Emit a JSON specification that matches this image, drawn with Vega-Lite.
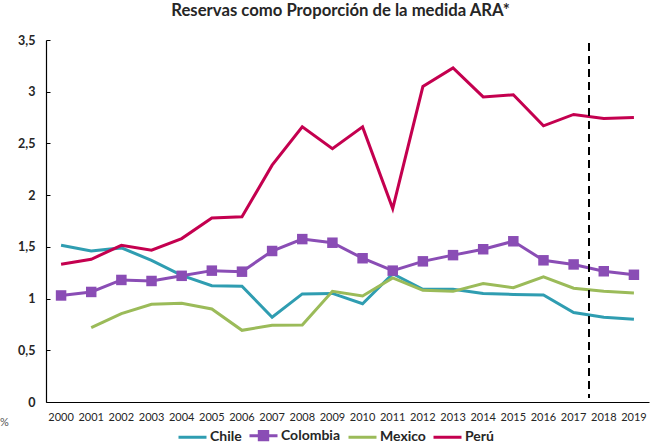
{
  "$schema": "https://vega.github.io/schema/vega-lite/v6.json",
  "autosize": "none",
  "width": 603,
  "height": 362,
  "padding": {"left": 46, "top": 40, "right": 4, "bottom": 43},
  "background": "white",
  "config": {
    "view": {"stroke": null},
    "font": "Lato",
    "axis": {"grid": false, "domainColor": "#000000", "domainWidth": 1.2}
  },
  "title": {
    "text": "Reservas como Proporción de la medida ARA*",
    "fontSize": 16.7,
    "fontWeight": "bold",
    "color": "#262626",
    "font": "Lato",
    "offset": 14,
    "dx": -7
  },
  "data": {
    "values": [
      {"year": "2000", "country": "Chile", "value": 1.515},
      {"year": "2001", "country": "Chile", "value": 1.46},
      {"year": "2002", "country": "Chile", "value": 1.49},
      {"year": "2003", "country": "Chile", "value": 1.37},
      {"year": "2004", "country": "Chile", "value": 1.225},
      {"year": "2005", "country": "Chile", "value": 1.125},
      {"year": "2006", "country": "Chile", "value": 1.12},
      {"year": "2007", "country": "Chile", "value": 0.82},
      {"year": "2008", "country": "Chile", "value": 1.045},
      {"year": "2009", "country": "Chile", "value": 1.05},
      {"year": "2010", "country": "Chile", "value": 0.95},
      {"year": "2011", "country": "Chile", "value": 1.24},
      {"year": "2012", "country": "Chile", "value": 1.09},
      {"year": "2013", "country": "Chile", "value": 1.09},
      {"year": "2014", "country": "Chile", "value": 1.05},
      {"year": "2015", "country": "Chile", "value": 1.04},
      {"year": "2016", "country": "Chile", "value": 1.035},
      {"year": "2017", "country": "Chile", "value": 0.865},
      {"year": "2018", "country": "Chile", "value": 0.82},
      {"year": "2019", "country": "Chile", "value": 0.80},
      {"year": "2000", "country": "Colombia", "value": 1.03},
      {"year": "2001", "country": "Colombia", "value": 1.064},
      {"year": "2002", "country": "Colombia", "value": 1.18},
      {"year": "2003", "country": "Colombia", "value": 1.17},
      {"year": "2004", "country": "Colombia", "value": 1.22},
      {"year": "2005", "country": "Colombia", "value": 1.27},
      {"year": "2006", "country": "Colombia", "value": 1.26},
      {"year": "2007", "country": "Colombia", "value": 1.46},
      {"year": "2008", "country": "Colombia", "value": 1.575},
      {"year": "2009", "country": "Colombia", "value": 1.54},
      {"year": "2010", "country": "Colombia", "value": 1.39},
      {"year": "2011", "country": "Colombia", "value": 1.27},
      {"year": "2012", "country": "Colombia", "value": 1.36},
      {"year": "2013", "country": "Colombia", "value": 1.42},
      {"year": "2014", "country": "Colombia", "value": 1.477},
      {"year": "2015", "country": "Colombia", "value": 1.554},
      {"year": "2016", "country": "Colombia", "value": 1.37},
      {"year": "2017", "country": "Colombia", "value": 1.33},
      {"year": "2018", "country": "Colombia", "value": 1.264},
      {"year": "2019", "country": "Colombia", "value": 1.23},
      {"year": "2001", "country": "Mexico", "value": 0.72},
      {"year": "2002", "country": "Mexico", "value": 0.855},
      {"year": "2003", "country": "Mexico", "value": 0.945},
      {"year": "2004", "country": "Mexico", "value": 0.955},
      {"year": "2005", "country": "Mexico", "value": 0.90},
      {"year": "2006", "country": "Mexico", "value": 0.693},
      {"year": "2007", "country": "Mexico", "value": 0.742},
      {"year": "2008", "country": "Mexico", "value": 0.745},
      {"year": "2009", "country": "Mexico", "value": 1.07},
      {"year": "2010", "country": "Mexico", "value": 1.025},
      {"year": "2011", "country": "Mexico", "value": 1.20},
      {"year": "2012", "country": "Mexico", "value": 1.08},
      {"year": "2013", "country": "Mexico", "value": 1.07},
      {"year": "2014", "country": "Mexico", "value": 1.145},
      {"year": "2015", "country": "Mexico", "value": 1.105},
      {"year": "2016", "country": "Mexico", "value": 1.21},
      {"year": "2017", "country": "Mexico", "value": 1.10},
      {"year": "2018", "country": "Mexico", "value": 1.07},
      {"year": "2019", "country": "Mexico", "value": 1.055},
      {"year": "2000", "country": "Perú", "value": 1.332},
      {"year": "2001", "country": "Perú", "value": 1.38},
      {"year": "2002", "country": "Perú", "value": 1.515},
      {"year": "2003", "country": "Perú", "value": 1.467},
      {"year": "2004", "country": "Perú", "value": 1.58},
      {"year": "2005", "country": "Perú", "value": 1.78},
      {"year": "2006", "country": "Perú", "value": 1.79},
      {"year": "2007", "country": "Perú", "value": 2.29},
      {"year": "2008", "country": "Perú", "value": 2.66},
      {"year": "2009", "country": "Perú", "value": 2.45},
      {"year": "2010", "country": "Perú", "value": 2.66},
      {"year": "2011", "country": "Perú", "value": 1.87},
      {"year": "2012", "country": "Perú", "value": 3.05},
      {"year": "2013", "country": "Perú", "value": 3.23},
      {"year": "2014", "country": "Perú", "value": 2.95},
      {"year": "2015", "country": "Perú", "value": 2.97},
      {"year": "2016", "country": "Perú", "value": 2.67},
      {"year": "2017", "country": "Perú", "value": 2.78},
      {"year": "2018", "country": "Perú", "value": 2.74},
      {"year": "2019", "country": "Perú", "value": 2.75}
    ]
  },
  "encoding": {
    "x": {
      "field": "year",
      "type": "ordinal",
      "scale": {"type": "band", "paddingInner": 0, "paddingOuter": 0},
      "axis": {
        "title": null,
        "labelAngle": 0,
        "ticks": false,
        "labelPadding": 9,
        "labelFontSize": 11,
        "labelColor": "#262626",
        "labelFont": "Lato"
      }
    },
    "y": {
      "field": "value",
      "type": "quantitative",
      "scale": {"domain": [0, 3.5], "nice": false},
      "axis": {
        "values": [0, 0.5, 1, 1.5, 2, 2.5, 3, 3.5],
        "labelExpr": "replace(format(datum.value, '.1~f'), '.', ',')",
        "labelFontSize": 12.5,
        "labelFontWeight": "bold",
        "labelColor": "#262626",
        "labelFont": "Lato",
        "tickSize": -4,
        "tickColor": "#000000",
        "labelPadding": 15,
        "title": "%",
        "titleAngle": 0,
        "titleX": -42,
        "titleY": 382,
        "titleAlign": "center",
        "titleBaseline": "middle",
        "titleFontWeight": "normal",
        "titleFontSize": 11,
        "titleColor": "#555555"
      }
    },
    "color": {
      "field": "country",
      "type": "nominal",
      "scale": {
        "domain": ["Chile", "Colombia", "Mexico", "Perú"],
        "range": ["#2F9DB1", "#8A4DB5", "#9BBB59", "#C4004F"]
      },
      "legend": {
        "title": null,
        "orient": "none",
        "legendX": 131,
        "legendY": 380,
        "direction": "horizontal",
        "labelFontSize": 14,
        "labelFontWeight": "bold",
        "labelColor": "#262626",
        "labelFont": "Lato",
        "labelOffset": 2,
        "columnPadding": 1,
        "symbolSize": 784,
        "symbolStrokeWidth": 3,
        "encode": {
          "symbols": {
            "update": {
              "shape": {"signal": "datum.value === 'Colombia' ? 'M-1,0H1M-0.3,-0.3H0.3V0.3H-0.3Z' : 'M-1,0H1'"},
              "fill": {"signal": "datum.value === 'Colombia' ? scale('color', datum.value) : 'transparent'"},
              "strokeWidth": {"value": 3}
            }
          }
        }
      }
    }
  },
  "layer": [
    {
      "mark": {"type": "line", "strokeWidth": 3},
      "encoding": {}
    },
    {
      "transform": [{"filter": "datum.country === 'Colombia'"}],
      "mark": {"type": "square", "size": 110, "opacity": 1, "filled": true},
      "encoding": {}
    },
    {
      "mark": {"type": "rule", "color": "#000000", "strokeDash": [8, 5], "strokeWidth": 1.3},
      "encoding": {
        "x": {"datum": "2018", "bandPosition": 0},
        "y": {"datum": 3.47},
        "y2": {"datum": 0.04},
        "color": {"value": "#000000"}
      }
    }
  ]
}
